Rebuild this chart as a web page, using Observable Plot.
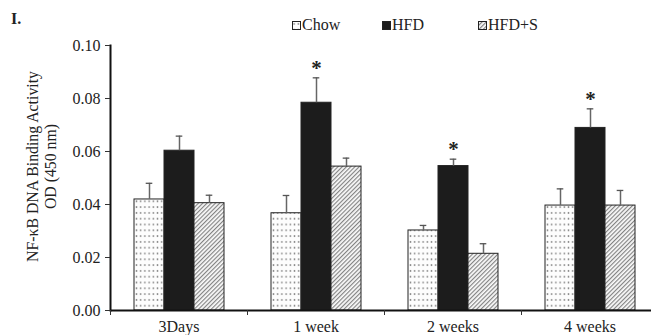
<!DOCTYPE html>
<html>
<head>
<meta charset="utf-8">
<script src="https://cdn.jsdelivr.net/npm/d3@7"></script>
<script src="https://cdn.jsdelivr.net/npm/@observablehq/plot@0.6"></script>
<style>
  html, body { margin: 0; padding: 0; background: #fff; }
  body { width: 651px; height: 335px; overflow: hidden; font-family: "Liberation Serif", "Times New Roman", serif; color: #222; }
  #head { position: relative; height: 36px; }
  #head span { position: absolute; line-height: 1; white-space: nowrap; }
  #head svg.sw { position: absolute; }
</style>
</head>
<body>
<svg width="0" height="0" style="position:absolute">
  <defs>
    <pattern id="dots" patternUnits="userSpaceOnUse" width="4.2" height="5.8">
      <rect width="4.2" height="5.8" fill="#fdfdfd"></rect>
      <circle cx="2.1" cy="2.9" r="0.85" fill="#858585"></circle>
    </pattern>
    <pattern id="hatch" patternUnits="userSpaceOnUse" width="3" height="3" patternTransform="rotate(45)">
      <rect width="3" height="3" fill="#fafafa"></rect>
      <line x1="0.6" y1="0" x2="0.6" y2="3" stroke="#7d7d7d" stroke-width="1.1"></line>
    </pattern>
  </defs>
</svg>
<div id="head"></div>
<div id="chart"></div>
<script>
const categories = ["3Days", "1 week", "2 weeks", "4 weeks"];
const series = ["Chow", "HFD", "HFD+S"];
const chow    = [0.0419, 0.0367, 0.0302, 0.0396];
const chowErr = [0.0061, 0.0067, 0.0019, 0.0063];
const hfd     = [0.0603, 0.0784, 0.0545, 0.0689];
const hfdErr  = [0.0055, 0.0094, 0.0026, 0.0072];
const hfds    = [0.0405, 0.0543, 0.0214, 0.0396];
const hfdsErr = [0.0030, 0.0032, 0.0038, 0.0057];
const hfdSignificant = [false, true, true, true];
const yTicks = [0, 0.02, 0.04, 0.06, 0.08, 0.10];
const yLabel = "NF-κB DNA Binding Activity\nOD (450 nm)";
const panelLabel = "I.";

const fills = ["url(#dots)", "#1c1c1c", "url(#hatch)"];

const rows = categories.flatMap((c, i) => [
  {category: c, series: series[0], value: chow[i], err: chowErr[i], sig: false},
  {category: c, series: series[1], value: hfd[i], err: hfdErr[i], sig: hfdSignificant[i]},
  {category: c, series: series[2], value: hfds[i], err: hfdsErr[i], sig: false}
]);

// header: panel label + legend
const head = document.getElementById("head");
const pl = document.createElement("span");
pl.textContent = panelLabel;
pl.style.cssText = "left:11px;top:11px;font-size:16px;font-weight:bold;";
head.appendChild(pl);
const legendX = [292, 382, 478];
series.forEach((s, i) => {
  const ns = "http://www.w3.org/2000/svg";
  const sw = document.createElementNS(ns, "svg");
  sw.setAttribute("class", "sw");
  sw.setAttribute("width", 9); sw.setAttribute("height", 9);
  sw.style.left = legendX[i] + "px"; sw.style.top = "21px";
  const r = document.createElementNS(ns, "rect");
  r.setAttribute("x", 0.5); r.setAttribute("y", 0.5);
  r.setAttribute("width", 8); r.setAttribute("height", 8);
  r.setAttribute("fill", fills[i]);
  r.setAttribute("stroke", "#222"); r.setAttribute("stroke-width", 1);
  sw.appendChild(r);
  head.appendChild(sw);
  const t = document.createElement("span");
  t.textContent = s;
  t.style.cssText = `left:${legendX[i] + 10}px;top:17px;font-size:16px;`;
  head.appendChild(t);
});

const chart = Plot.plot({
  width: 651,
  height: 299,
  marginLeft: 110,
  marginRight: -7,
  marginTop: 9,
  marginBottom: 25,
  style: {fontFamily: "'Liberation Serif', 'Times New Roman', serif", fontSize: "16px", color: "#222", background: "#fff", overflow: "visible"},
  fx: {domain: categories, padding: 0, axis: null, label: null},
  x: {domain: series, paddingInner: 0, paddingOuter: 0.755, axis: null},
  y: {domain: [0, 0.10], axis: null},
  color: {domain: series, range: fills},
  marks: [
    Plot.barY(rows, {fx: "category", x: "series", y: "value", fill: "series", stroke: "#222", strokeWidth: 1}),
    Plot.ruleX(rows, {fx: "category", x: "series", y1: "value", y2: d => d.value + d.err, stroke: "#666", strokeWidth: 1.5}),
    Plot.tickY(rows, {fx: "category", x: "series", y: d => d.value + d.err, stroke: "#555", strokeWidth: 1.3, insetLeft: 11.7, insetRight: 11.7}),
    Plot.text(rows.filter(d => d.sig), {fx: "category", x: "series", y: d => d.value + d.err, text: () => "*", fontSize: 21, fontWeight: "bold", dy: -10, fill: "#222"}),
    Plot.ruleY([0], {stroke: "#111", strokeWidth: 2}),
    Plot.frame({anchor: "left", facetAnchor: "left", stroke: "#111", strokeWidth: 2}),
    Plot.axisY({ticks: yTicks, tickFormat: d3.format(".2f"), tickSize: 5, tickPadding: 5, label: null, fontSize: 16, stroke: "#333"}),
    Plot.axisFx({anchor: "bottom", tickSize: 0, tickPadding: 10.5, label: null, fontSize: 16}),
    Plot.axisFx({anchor: "bottom", text: null, tickSize: 5, dx: -68.5, label: null, stroke: "#333"}),
    Plot.text([yLabel], {frameAnchor: "left", facetAnchor: "left", textAnchor: "middle", lineAnchor: "middle", rotate: -90, dx: -69, dy: -11.5, fontSize: 15.8, lineHeight: 1.1, fill: "#222"})
  ]
});
document.getElementById("chart").appendChild(chart);
</script>
</body>
</html>
